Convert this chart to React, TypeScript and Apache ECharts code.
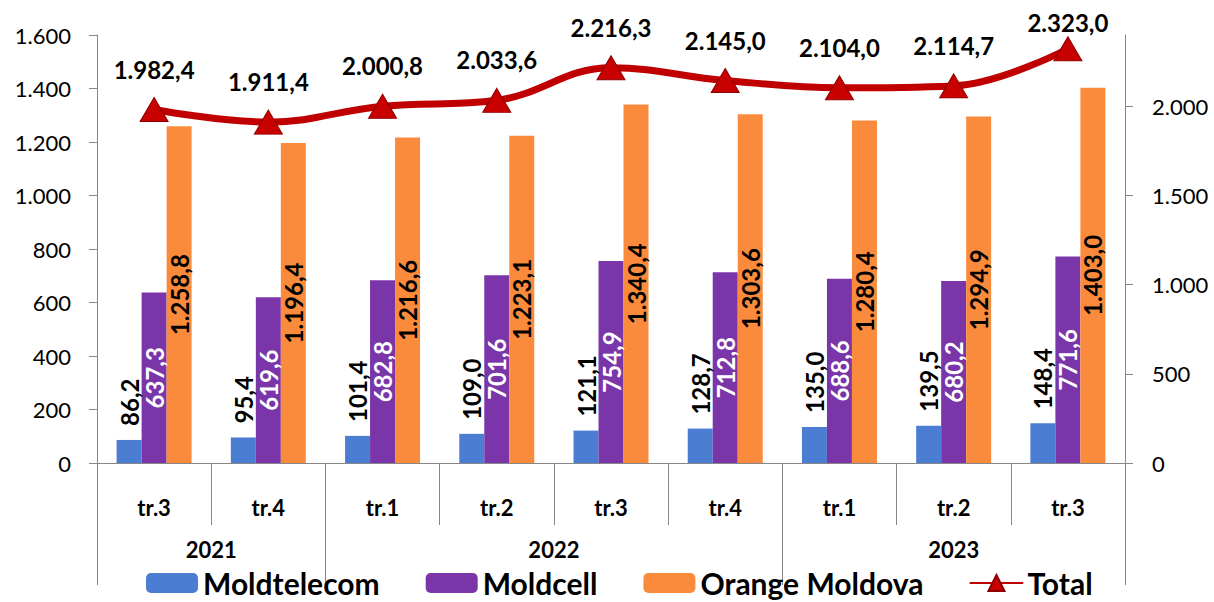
import React, { useEffect, useRef } from "react";
import * as echarts from "echarts";

const quarters = ["tr.3", "tr.4", "tr.1", "tr.2", "tr.3", "tr.4", "tr.1", "tr.2", "tr.3"];
const years = ["2021", "2022", "2023"];
const yearSpans = [2, 4, 3];
const moldtelecom = [86.2, 95.4, 101.4, 109.0, 121.1, 128.7, 135.0, 139.5, 148.4];
const moldcell = [637.3, 619.6, 682.8, 701.6, 754.9, 712.8, 688.6, 680.2, 771.6];
const orange = [1258.8, 1196.4, 1216.6, 1223.1, 1340.4, 1303.6, 1280.4, 1294.9, 1403.0];
const total = [1982.4, 1911.4, 2000.8, 2033.6, 2216.3, 2145.0, 2104.0, 2114.7, 2323.0];
const leftTicks = [0, 200, 400, 600, 800, 1000, 1200, 1400, 1600];
const rightTicks = [0, 500, 1000, 1500, 2000];

const FONT = "Lato";

function fmtNum(v: number, dec: number): string {
  const s = v.toFixed(dec);
  const [i, d] = s.split(".");
  const ip = i.replace(/\B(?=(\d{3})+(?!\d))/g, ".");
  return d !== undefined ? ip + "," + d : ip;
}

export default function App() {
  const ref = useRef<HTMLDivElement>(null);
  useEffect(() => {
    if (!ref.current) return;
    const chart = echarts.init(ref.current, undefined, { renderer: "svg" });

    const catData = quarters.map((q, i) => i + "|" + q);
    const boundaries: number[] = [0];
    const centers: number[] = [];
    let acc = 0;
    yearSpans.forEach((s) => {
      centers.push(acc + s / 2);
      acc += s;
      boundaries.push(acc);
    });

    const axisGrey = "#878787";
    const barLabelBase = {
      show: true,
      rotate: 90,
      fontFamily: FONT,
      fontSize: 24,
      fontWeight: "bold" as const,
      formatter: (p: any) => fmtNum(p.value, 1),
    };

    const rightMax = 2400;
    const totalData = total.map((v) => (v > rightMax * 0.93 ? { value: v, label: { distance: 2 } } : v));

    chart.setOption({
      animation: false,
      textStyle: { fontFamily: FONT },
      grid: { left: 97, right: 89, top: 35, bottom: 139, containLabel: false },
      legend: {
        left: 141,
        top: 568,
        itemWidth: 52,
        itemHeight: 20,
        itemGap: 46,
        padding: [0, 5, 0, 5],
        textStyle: { fontFamily: FONT, fontSize: 30, fontWeight: "bold", color: "#000", padding: [2, 0, 0, 0] },
        data: ["Moldtelecom", "Moldcell", "Orange Moldova", "Total"],
      },
      xAxis: [
        {
          type: "category",
          data: catData,
          position: "bottom",
          axisLine: { show: true, lineStyle: { color: axisGrey, width: 1 } },
          axisTick: { show: true, interval: 0, length: 62, lineStyle: { color: axisGrey } },
          axisLabel: {
            interval: 0,
            margin: 33,
            fontFamily: FONT,
            fontSize: 22,
            fontWeight: "bold",
            color: "#000",
            formatter: (v: string) => v.split("|")[1],
          },
        },
        {
          type: "value",
          min: 0,
          max: quarters.length,
          position: "bottom",
          splitLine: { show: false },
          axisLine: { show: false },
          axisTick: {
            show: true,
            length: 122,
            customValues: boundaries,
            lineStyle: { color: axisGrey },
          },
          axisLabel: {
            margin: 75,
            customValues: centers,
            fontFamily: FONT,
            fontSize: 22,
            fontWeight: "bold",
            color: "#000",
            formatter: (v: number) => {
              const idx = centers.findIndex((c) => Math.abs(c - v) < 1e-6);
              return idx >= 0 ? years[idx] : "";
            },
          },
        },
      ],
      yAxis: [
        {
          type: "value",
          min: 0,
          max: 1600,
          interval: 200,
          position: "left",
          splitLine: { show: false },
          axisLine: { show: true, lineStyle: { color: axisGrey } },
          axisTick: { show: true, length: 8, lineStyle: { color: axisGrey } },
          axisLabel: {
            margin: 26,
            fontFamily: FONT,
            fontSize: 22,
            color: "#000",
            customValues: leftTicks,
            formatter: (v: number) => fmtNum(v, 0),
          },
        },
        {
          type: "value",
          min: 0,
          max: rightMax,
          position: "right",
          splitLine: { show: false },
          axisLine: { show: true, lineStyle: { color: axisGrey } },
          axisTick: { show: true, length: 8, customValues: rightTicks, lineStyle: { color: axisGrey } },
          axisLabel: {
            margin: 27,
            fontFamily: FONT,
            fontSize: 22,
            color: "#000",
            customValues: rightTicks,
            formatter: (v: number) => fmtNum(v, 0),
          },
        },
      ],
      series: [
        {
          name: "Moldtelecom",
          type: "bar",
          data: moldtelecom,
          barWidth: 25,
          barGap: "0%",
          itemStyle: { color: "#4B7DD2" },
          label: {
            ...barLabelBase,
            position: "top",
            distance: 14,
            align: "left",
            verticalAlign: "middle",
            color: "#000",
          },
        },
        {
          name: "Moldcell",
          type: "bar",
          data: moldcell,
          barWidth: 25,
          barGap: "0%",
          itemStyle: { color: "#7A36A8" },
          label: {
            ...barLabelBase,
            position: "inside",
            align: "center",
            verticalAlign: "middle",
            color: "#fff",
          },
        },
        {
          name: "Orange Moldova",
          type: "bar",
          data: orange,
          barWidth: 25,
          barGap: "0%",
          itemStyle: { color: "#FA8B3C" },
          label: {
            ...barLabelBase,
            position: "inside",
            align: "center",
            verticalAlign: "middle",
            color: "#000",
          },
        },
        {
          name: "Total",
          type: "line",
          yAxisIndex: 1,
          data: totalData,
          smooth: 0.4,
          symbol: "triangle",
          symbolSize: [28, 24],
          lineStyle: { color: "#C00000", width: 7, cap: "round" },
          itemStyle: { color: "#C80000", borderColor: "#8E0000", borderWidth: 1 },
          z: 5,
          label: {
            show: true,
            position: "top",
            distance: 16,
            fontFamily: FONT,
            fontSize: 24,
            fontWeight: "bold",
            color: "#000",
            formatter: (p: any) => fmtNum(p.value, 1),
          },
        },
      ],
    });
    return () => chart.dispose();
  }, []);

  return (
    <div
      ref={ref}
      style={{ position: "fixed", left: 0, top: 0, width: 1214, height: 602, background: "#fff" }}
    />
  );
}
